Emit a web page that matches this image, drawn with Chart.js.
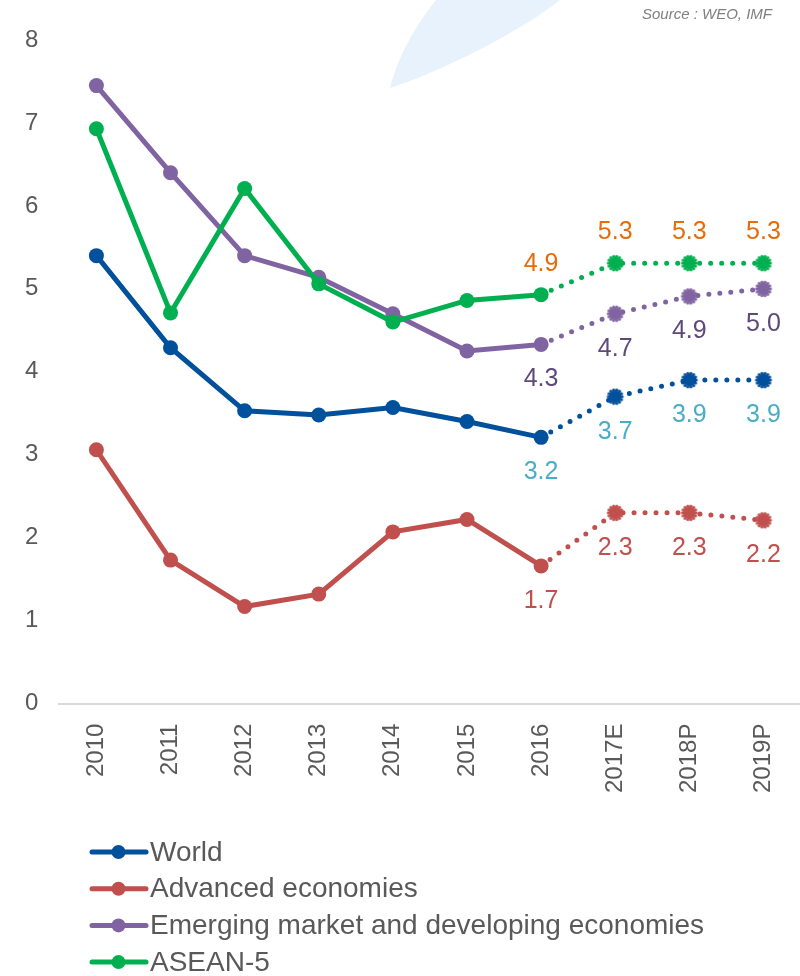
<!DOCTYPE html>
<html>
<head>
<meta charset="utf-8">
<title>GDP growth</title>
<script src="https://cdn.jsdelivr.net/npm/chart.js@4/dist/chart.umd.min.js"></script>
<style>
  html, body { margin: 0; padding: 0; background: #fff; overflow: hidden; }
  #wrap { width: 808px; height: 976px; position: relative; }
</style>
</head>
<body>
<div id="wrap"><canvas id="grafico"></canvas></div>
<script>
// ===== DADOS =====
const categories = ["2010", "2011", "2012", "2013", "2014", "2015", "2016", "2017E", "2018P", "2019P"];
const world    = [5.40, 4.29, 3.53, 3.48, 3.57, 3.40, 3.21, 3.70, 3.90, 3.90];
const advanced = [3.06, 1.73, 1.17, 1.32, 2.07, 2.22, 1.66, 2.30, 2.30, 2.21];
const emerging = [7.45, 6.40, 5.40, 5.14, 4.70, 4.25, 4.33, 4.70, 4.91, 5.00];
const asean5   = [6.93, 4.71, 6.21, 5.06, 4.60, 4.86, 4.93, 5.31, 5.31, 5.31];
const yTicks = [0, 1, 2, 3, 4, 5, 6, 7, 8];
const firstLabelled = 6; // 2016: labels start here, dotted line after it

const grey = "#595959";
const font = "'Liberation Sans', Arial, sans-serif";

const series = [
  { label: "World", data: world, color: "#00509B", labelColor: "#4BACC6", labelOffset: 35, order: 1 },
  { label: "Advanced economies", data: advanced, color: "#C0504D", labelColor: "#C0504D", labelOffset: 35, order: 1 },
  { label: "Emerging market and developing economies", data: emerging, color: "#8064A2", labelColor: "#5F497A", labelOffset: 35, order: 1 },
  { label: "ASEAN-5", data: asean5, color: "#00B050", labelColor: "#E46C0A", labelOffset: -31, order: 0 }
];

// marcador "serrilhado" das projeções
const makeJagged = color => {
  const cv = document.createElement("canvas");
  cv.width = 20;
  cv.height = 20;
  const g = cv.getContext("2d");
  g.fillStyle = color;
  g.beginPath();
  g.arc(10, 10, 6.2, 0, Math.PI * 2);
  g.fill();
  for (let k = 0; k < 14; k++) {
    const a = (k / 14) * Math.PI * 2;
    g.beginPath();
    g.arc(10 + Math.cos(a) * 7, 10 + Math.sin(a) * 7, 1.5, 0, Math.PI * 2);
    g.fill();
  }
  return cv;
};

// ===== PLUGINS =====
const decor = {
  id: "decor",
  beforeDraw(chart) {
    const c = chart.ctx;
    c.save();
    c.fillStyle = "#E8F2FC";
    c.beginPath();
    c.moveTo(390, 88);
    c.bezierCurveTo(398, 55, 418, 22, 436, 0);
    c.lineTo(560, 0);
    c.bezierCurveTo(520, 32, 440, 72, 390, 88);
    c.closePath();
    c.fill();
    c.restore();
  },
  afterDraw(chart) {
    const c = chart.ctx;
    c.save();
    c.font = "italic 15px " + font;
    c.fillStyle = "#7F7F7F";
    c.textAlign = "right";
    c.textBaseline = "middle";
    c.fillText("Source : WEO, IMF", 772, 15);

    // legenda vertical
    chart.data.datasets.forEach((ds, i) => {
      const y = 852 + i * 36.7;
      c.strokeStyle = ds.borderColor;
      c.lineWidth = 5;
      c.lineCap = "round";
      c.beginPath();
      c.moveTo(92, y);
      c.lineTo(146, y);
      c.stroke();
      c.fillStyle = ds.borderColor;
      c.beginPath();
      c.arc(118.5, y, 7, 0, Math.PI * 2);
      c.fill();
      c.fillStyle = grey;
      c.textAlign = "left";
      c.font = "28px " + font;
      c.fillText(ds.label, 150, y + 1);
    });
    c.restore();
  }
};

const valueLabels = {
  id: "valueLabels",
  afterDatasetsDraw(chart) {
    const c = chart.ctx;
    c.save();
    c.font = "25px " + font;
    c.textAlign = "center";
    c.textBaseline = "middle";
    chart.data.datasets.forEach((ds, i) => {
      const meta = chart.getDatasetMeta(i);
      const s = series[i];
      meta.data.forEach((pt, j) => {
        if (j < firstLabelled) return;
        c.fillStyle = s.labelColor;
        c.fillText(ds.data[j].toFixed(1), pt.x, pt.y + s.labelOffset);
      });
    });
    c.restore();
  }
};

// ===== GRÁFICO =====
const ctx = document.getElementById("grafico");
new Chart(ctx, {
  type: "line",
  data: {
    labels: categories,
    datasets: series.map(s => {
      const jagged = makeJagged(s.color);
      return {
        label: s.label,
        data: s.data,
        order: s.order,
        borderColor: s.color,
        backgroundColor: s.color,
        borderWidth: 5,
        borderCapStyle: "round",
        pointRadius: 7.5,
        pointBorderWidth: 0,
        pointBackgroundColor: s.color,
        pointStyle: c => c.dataIndex > firstLabelled ? jagged : "circle",
        tension: 0,
        segment: {
          borderDash: c => c.p0DataIndex >= firstLabelled ? [0, 11] : undefined
        }
      };
    })
  },
  options: {
    responsive: true,
    maintainAspectRatio: false,
    animation: false,
    layout: { padding: { top: 40, left: 4, right: 0, bottom: 181 } },
    plugins: {
      legend: { display: false },
      tooltip: { enabled: false }
    },
    scales: {
      x: {
        offset: true,
        grid: { display: true, drawOnChartArea: false, color: "transparent", drawTicks: true, tickLength: 18 },
        border: { display: true, color: "#D9D9D9", width: 2 },
        ticks: {
          autoSkip: false,
          minRotation: 90,
          maxRotation: 90,
          padding: 2,
          color: grey,
          font: { family: font, size: 24, lineHeight: 1 }
        }
      },
      y: {
        min: yTicks[0],
        max: yTicks[yTicks.length - 1],
        afterBuildTicks: axis => { axis.ticks = yTicks.map(v => ({ value: v })); },
        grid: { display: false, drawTicks: false },
        border: { display: false },
        ticks: {
          padding: 21,
          color: grey,
          font: { family: font, size: 24 }
        }
      }
    }
  },
  plugins: [decor, valueLabels]
});
</script>
</body>
</html>
